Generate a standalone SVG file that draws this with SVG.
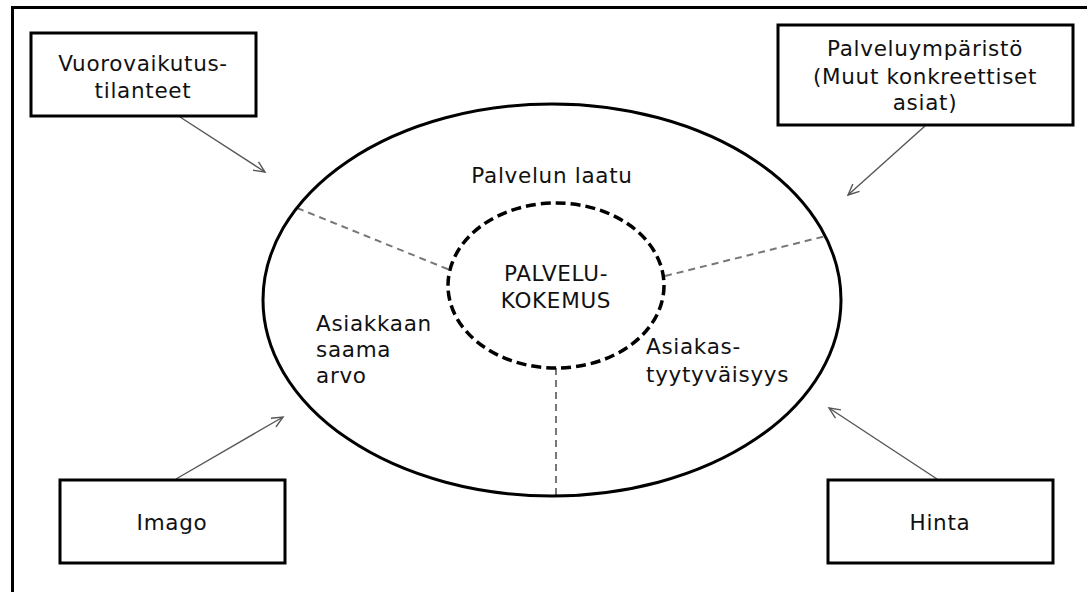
<svg xmlns="http://www.w3.org/2000/svg" width="1087" height="592" viewBox="0 0 1087 592">
<style>
.box{fill:#fff;stroke:#000;stroke-width:3}
.t{font-family:"DejaVu Sans",sans-serif;font-size:21.5px;fill:#111;letter-spacing:0.7px}
.c{text-anchor:middle}
.arr{stroke:#555;stroke-width:1.4;fill:none;marker-end:url(#ah)}
.sep{stroke:#777;stroke-width:2;stroke-dasharray:7 5;fill:none}
</style>
<defs>
<marker id="ah" markerWidth="14" markerHeight="12" refX="12" refY="6" orient="auto" markerUnits="userSpaceOnUse">
<path d="M1,1 L12,6 L1,11" fill="none" stroke="#555" stroke-width="1.4"/>
</marker>
</defs>
<rect width="1087" height="592" fill="#fff"/>
<path d="M12.5,592 L12.5,7.5 L1087,7.5" fill="none" stroke="#000" stroke-width="3"/>

<g id="connectors">
<line class="sep" x1="297" y1="208" x2="450" y2="270"/>
<line class="sep" x1="665" y1="276" x2="826" y2="236"/>
<line class="sep" x1="556" y1="368" x2="556" y2="497"/>
<line class="arr" x1="180" y1="117" x2="265" y2="172"/>
<line class="arr" x1="925" y1="126" x2="848" y2="195"/>
<line class="arr" x1="176" y1="479" x2="283" y2="417"/>
<line class="arr" x1="937" y1="479" x2="829" y2="408"/>
</g>

<g id="ellipse-outer">
<ellipse cx="552" cy="300" rx="289" ry="196" fill="none" stroke="#000" stroke-width="3"/>
<text class="t c" x="552" y="183">Palvelun laatu</text>
<text class="t" x="316" y="331">Asiakkaan</text>
<text class="t" x="316" y="357">saama</text>
<text class="t" x="316" y="383">arvo</text>
<text class="t" x="646" y="354">Asiakas-</text>
<text class="t" x="646" y="382">tyytyväisyys</text>
</g>

<g id="palvelukokemus">
<ellipse cx="556" cy="285.5" rx="108" ry="82.5" fill="none" stroke="#000" stroke-width="3.5" stroke-dasharray="10 5"/>
<text class="t c" x="556" y="281">PALVELU-</text>
<text class="t c" x="556" y="308">KOKEMUS</text>
</g>

<g id="vuorovaikutus">
<rect class="box" x="31" y="33" width="225" height="83"/>
<text class="t c" x="143" y="71">Vuorovaikutus-</text>
<text class="t c" x="143" y="98">tilanteet</text>
</g>

<g id="palveluymparisto">
<rect class="box" x="778" y="25" width="295" height="100"/>
<text class="t c" x="925" y="56">Palveluympäristö</text>
<text class="t c" x="925" y="84">(Muut konkreettiset</text>
<text class="t c" x="925" y="110">asiat)</text>
</g>

<g id="imago">
<rect class="box" x="60" y="480" width="225" height="83"/>
<text class="t c" x="172" y="530">Imago</text>
</g>

<g id="hinta">
<rect class="box" x="828" y="480" width="225" height="83"/>
<text class="t c" x="940" y="530">Hinta</text>
</g>
</svg>
